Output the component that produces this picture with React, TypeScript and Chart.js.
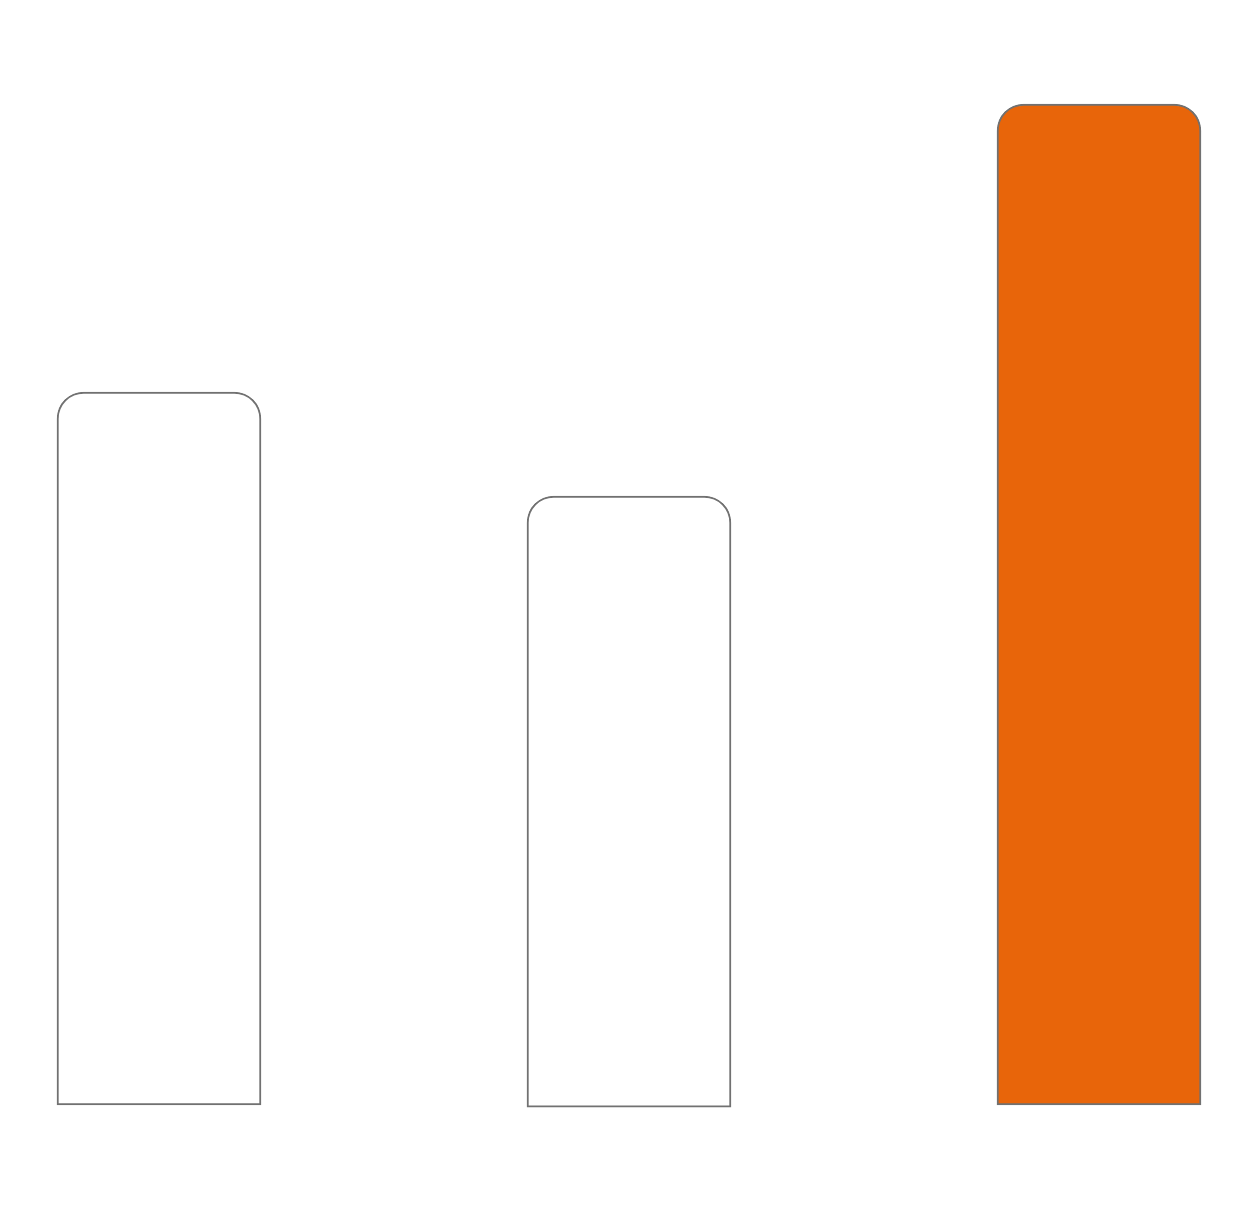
import React, { useEffect, useRef } from "react";
import { Chart, registerables } from "chart.js";

Chart.register(...registerables);

const categories = ["A", "B", "C"];
const barStart = [0, -0.22, 0];
const barEnd = [71.3, 60.9, 100.1];
const fillColors = ["#ffffff", "#ffffff", "#E8650A"];

export default function App() {
  const ref = useRef<HTMLCanvasElement | null>(null);
  useEffect(() => {
    if (!ref.current) return;
    const chart = new Chart(ref.current, {
      type: "bar",
      data: {
        labels: categories,
        datasets: [
          {
            data: categories.map((_, i) => [barStart[i], barEnd[i]]) as any,
            backgroundColor: fillColors,
            borderColor: "#717171",
            borderWidth: 2,
            borderSkipped: false,
            borderRadius: { topLeft: 27, topRight: 27, bottomLeft: 0, bottomRight: 0 },
            barThickness: 204,
            clip: false as any,
          },
        ],
      },
      options: {
        animation: false,
        responsive: true,
        maintainAspectRatio: false,
        layout: { padding: { left: 151, right: 153, top: 97, bottom: 117 } },
        plugins: { legend: { display: false }, tooltip: { enabled: false } },
        scales: {
          x: { display: false, offset: false },
          y: { display: false, min: 0, max: 100 },
        },
      },
    });
    return () => chart.destroy();
  }, []);
  return (
    <div style={{ position: "relative", width: "100%", height: 1214 }}>
      <canvas ref={ref} />
    </div>
  );
}
